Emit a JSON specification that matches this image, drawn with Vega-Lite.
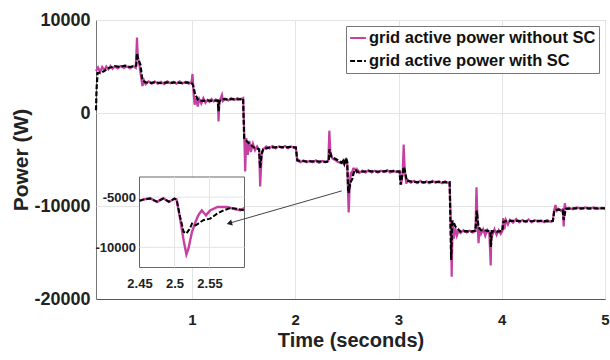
{
  "$schema": "https://vega.github.io/schema/vega-lite/v6.json",
  "width": 509,
  "height": 279,
  "autosize": {"type": "none"},
  "padding": {"left": 96, "top": 20, "right": 5, "bottom": 61},
  "background": "white",
  "config": {
    "font": "Liberation Sans",
    "view": {"stroke": "#777", "strokeWidth": 1},
    "axis": {"labelColor": "#222", "titleColor": "#222", "labelFontWeight": "bold", "titleFontWeight": "bold", "gridColor": "#e4e4e4", "domainColor": "#555", "ticks": false},
    "legend": {
      "title": null,
      "orient": "top-right",
      "offset": 6,
      "labelFontSize": 16.5,
      "labelFontWeight": "bold",
      "labelColor": "#111",
      "labelLimit": 400,
      "labelOffset": 2,
      "symbolType": "stroke",
      "symbolSize": 250,
      "symbolStrokeWidth": 2,
      "strokeColor": "#777",
      "fillColor": "white",
      "padding": 3,
      "rowPadding": 5
    }
  },
  "datasets": {
    "power": [
      {"s": "wo", "t": 0.07, "p": 4500}, {"s": "wo", "t": 0.09, "p": 4900}, {"s": "wo", "t": 0.11, "p": 4400}, {"s": "wo", "t": 0.13, "p": 4950},
      {"s": "wo", "t": 0.15, "p": 4600}, {"s": "wo", "t": 0.17, "p": 5000}, {"s": "wo", "t": 0.19, "p": 4700}, {"s": "wo", "t": 0.21, "p": 5050},
      {"s": "wo", "t": 0.23, "p": 4750}, {"s": "wo", "t": 0.25, "p": 5000}, {"s": "wo", "t": 0.28, "p": 4800}, {"s": "wo", "t": 0.31, "p": 5050},
      {"s": "wo", "t": 0.34, "p": 4850}, {"s": "wo", "t": 0.37, "p": 5000}, {"s": "wo", "t": 0.40, "p": 4800}, {"s": "wo", "t": 0.43, "p": 5050},
      {"s": "wo", "t": 0.455, "p": 4850}, {"s": "wo", "t": 0.467, "p": 8100}, {"s": "wo", "t": 0.475, "p": 6000}, {"s": "wo", "t": 0.49, "p": 5200},
      {"s": "wo", "t": 0.505, "p": 4000}, {"s": "wo", "t": 0.52, "p": 2900}, {"s": "wo", "t": 0.535, "p": 3500}, {"s": "wo", "t": 0.55, "p": 3100},
      {"s": "wo", "t": 0.58, "p": 3400}, {"s": "wo", "t": 0.61, "p": 3150}, {"s": "wo", "t": 0.64, "p": 3400}, {"s": "wo", "t": 0.67, "p": 3150},
      {"s": "wo", "t": 0.70, "p": 3350}, {"s": "wo", "t": 0.73, "p": 3100}, {"s": "wo", "t": 0.76, "p": 3400}, {"s": "wo", "t": 0.79, "p": 3200},
      {"s": "wo", "t": 0.82, "p": 3350}, {"s": "wo", "t": 0.85, "p": 3150}, {"s": "wo", "t": 0.88, "p": 3400}, {"s": "wo", "t": 0.91, "p": 3200},
      {"s": "wo", "t": 0.94, "p": 3350}, {"s": "wo", "t": 0.97, "p": 3150}, {"s": "wo", "t": 0.995, "p": 3300}, {"s": "wo", "t": 1.005, "p": 4200},
      {"s": "wo", "t": 1.015, "p": 2200}, {"s": "wo", "t": 1.025, "p": 900}, {"s": "wo", "t": 1.04, "p": 1600}, {"s": "wo", "t": 1.055, "p": 700},
      {"s": "wo", "t": 1.07, "p": 1500}, {"s": "wo", "t": 1.09, "p": 1000}, {"s": "wo", "t": 1.11, "p": 1600}, {"s": "wo", "t": 1.13, "p": 1100},
      {"s": "wo", "t": 1.15, "p": 1400}, {"s": "wo", "t": 1.17, "p": 1200}, {"s": "wo", "t": 1.19, "p": 1500}, {"s": "wo", "t": 1.21, "p": 1250},
      {"s": "wo", "t": 1.23, "p": 1450}, {"s": "wo", "t": 1.25, "p": 1300}, {"s": "wo", "t": 1.257, "p": -900}, {"s": "wo", "t": 1.265, "p": 1200},
      {"s": "wo", "t": 1.29, "p": 1950}, {"s": "wo", "t": 1.30, "p": 1300}, {"s": "wo", "t": 1.32, "p": 1550}, {"s": "wo", "t": 1.35, "p": 1350},
      {"s": "wo", "t": 1.38, "p": 1600}, {"s": "wo", "t": 1.41, "p": 1400}, {"s": "wo", "t": 1.44, "p": 1600}, {"s": "wo", "t": 1.47, "p": 1450},
      {"s": "wo", "t": 1.495, "p": 1600}, {"s": "wo", "t": 1.505, "p": -2000}, {"s": "wo", "t": 1.515, "p": -6300}, {"s": "wo", "t": 1.525, "p": -2700},
      {"s": "wo", "t": 1.54, "p": -4500}, {"s": "wo", "t": 1.555, "p": -3000}, {"s": "wo", "t": 1.57, "p": -4200}, {"s": "wo", "t": 1.59, "p": -3300},
      {"s": "wo", "t": 1.61, "p": -4000}, {"s": "wo", "t": 1.63, "p": -3600}, {"s": "wo", "t": 1.65, "p": -4000}, {"s": "wo", "t": 1.66, "p": -7900},
      {"s": "wo", "t": 1.675, "p": -4500}, {"s": "wo", "t": 1.69, "p": -3900}, {"s": "wo", "t": 1.72, "p": -3600}, {"s": "wo", "t": 1.75, "p": -3800},
      {"s": "wo", "t": 1.78, "p": -3550}, {"s": "wo", "t": 1.81, "p": -3800}, {"s": "wo", "t": 1.84, "p": -3600}, {"s": "wo", "t": 1.87, "p": -3750},
      {"s": "wo", "t": 1.90, "p": -3550}, {"s": "wo", "t": 1.93, "p": -3800}, {"s": "wo", "t": 1.96, "p": -3600}, {"s": "wo", "t": 1.99, "p": -3750},
      {"s": "wo", "t": 2.005, "p": -3700}, {"s": "wo", "t": 2.02, "p": -5100}, {"s": "wo", "t": 2.05, "p": -5300}, {"s": "wo", "t": 2.08, "p": -5100},
      {"s": "wo", "t": 2.11, "p": -5300}, {"s": "wo", "t": 2.14, "p": -5150}, {"s": "wo", "t": 2.17, "p": -5300}, {"s": "wo", "t": 2.20, "p": -5100},
      {"s": "wo", "t": 2.23, "p": -5350}, {"s": "wo", "t": 2.26, "p": -5150}, {"s": "wo", "t": 2.29, "p": -5300}, {"s": "wo", "t": 2.32, "p": -5150},
      {"s": "wo", "t": 2.33, "p": -1900}, {"s": "wo", "t": 2.34, "p": -4200}, {"s": "wo", "t": 2.36, "p": -4900}, {"s": "wo", "t": 2.39, "p": -5100},
      {"s": "wo", "t": 2.42, "p": -5300}, {"s": "wo", "t": 2.45, "p": -5400}, {"s": "wo", "t": 2.455, "p": -5250}, {"s": "wo", "t": 2.465, "p": -5100},
      {"s": "wo", "t": 2.475, "p": -5480}, {"s": "wo", "t": 2.484, "p": -5100}, {"s": "wo", "t": 2.492, "p": -5480}, {"s": "wo", "t": 2.5, "p": -5150},
      {"s": "wo", "t": 2.503, "p": -5250}, {"s": "wo", "t": 2.508, "p": -7140}, {"s": "wo", "t": 2.513, "p": -9280}, {"s": "wo", "t": 2.517, "p": -10700},
      {"s": "wo", "t": 2.52, "p": -10100}, {"s": "wo", "t": 2.525, "p": -8450}, {"s": "wo", "t": 2.53, "p": -7470}, {"s": "wo", "t": 2.534, "p": -6810},
      {"s": "wo", "t": 2.539, "p": -6320}, {"s": "wo", "t": 2.545, "p": -6810}, {"s": "wo", "t": 2.551, "p": -6320}, {"s": "wo", "t": 2.561, "p": -5990},
      {"s": "wo", "t": 2.575, "p": -5990}, {"s": "wo", "t": 2.584, "p": -6150}, {"s": "wo", "t": 2.594, "p": -6320}, {"s": "wo", "t": 2.6, "p": -6080},
      {"s": "wo", "t": 2.62, "p": -6450}, {"s": "wo", "t": 2.65, "p": -6200}, {"s": "wo", "t": 2.68, "p": -6400}, {"s": "wo", "t": 2.71, "p": -6150},
      {"s": "wo", "t": 2.74, "p": -6400}, {"s": "wo", "t": 2.77, "p": -6200}, {"s": "wo", "t": 2.80, "p": -6400}, {"s": "wo", "t": 2.83, "p": -6200},
      {"s": "wo", "t": 2.86, "p": -6350}, {"s": "wo", "t": 2.89, "p": -6150}, {"s": "wo", "t": 2.92, "p": -6400}, {"s": "wo", "t": 2.95, "p": -6200},
      {"s": "wo", "t": 2.98, "p": -6350}, {"s": "wo", "t": 3.01, "p": -6250}, {"s": "wo", "t": 3.025, "p": -7700}, {"s": "wo", "t": 3.04, "p": -6500},
      {"s": "wo", "t": 3.05, "p": -3400}, {"s": "wo", "t": 3.06, "p": -6000}, {"s": "wo", "t": 3.075, "p": -7600}, {"s": "wo", "t": 3.09, "p": -7200},
      {"s": "wo", "t": 3.12, "p": -7500}, {"s": "wo", "t": 3.15, "p": -7300}, {"s": "wo", "t": 3.18, "p": -7550}, {"s": "wo", "t": 3.21, "p": -7300},
      {"s": "wo", "t": 3.24, "p": -7500}, {"s": "wo", "t": 3.27, "p": -7350}, {"s": "wo", "t": 3.30, "p": -7550}, {"s": "wo", "t": 3.33, "p": -7300},
      {"s": "wo", "t": 3.36, "p": -7500}, {"s": "wo", "t": 3.39, "p": -7350}, {"s": "wo", "t": 3.42, "p": -7550}, {"s": "wo", "t": 3.45, "p": -7350},
      {"s": "wo", "t": 3.48, "p": -7500}, {"s": "wo", "t": 3.495, "p": -7450}, {"s": "wo", "t": 3.505, "p": -11000}, {"s": "wo", "t": 3.515, "p": -17600},
      {"s": "wo", "t": 3.525, "p": -11500}, {"s": "wo", "t": 3.535, "p": -13500}, {"s": "wo", "t": 3.55, "p": -12400}, {"s": "wo", "t": 3.565, "p": -13200},
      {"s": "wo", "t": 3.58, "p": -12700}, {"s": "wo", "t": 3.60, "p": -12900}, {"s": "wo", "t": 3.63, "p": -12600}, {"s": "wo", "t": 3.66, "p": -12850},
      {"s": "wo", "t": 3.69, "p": -12650}, {"s": "wo", "t": 3.72, "p": -12850}, {"s": "wo", "t": 3.745, "p": -12700}, {"s": "wo", "t": 3.755, "p": -8000},
      {"s": "wo", "t": 3.765, "p": -11500}, {"s": "wo", "t": 3.775, "p": -14000}, {"s": "wo", "t": 3.785, "p": -12300}, {"s": "wo", "t": 3.80, "p": -13000},
      {"s": "wo", "t": 3.82, "p": -12500}, {"s": "wo", "t": 3.84, "p": -13200}, {"s": "wo", "t": 3.86, "p": -12600}, {"s": "wo", "t": 3.88, "p": -13000},
      {"s": "wo", "t": 3.893, "p": -16400}, {"s": "wo", "t": 3.90, "p": -12600}, {"s": "wo", "t": 3.91, "p": -13100}, {"s": "wo", "t": 3.93, "p": -12500},
      {"s": "wo", "t": 3.95, "p": -13100}, {"s": "wo", "t": 3.97, "p": -12600}, {"s": "wo", "t": 3.99, "p": -13000}, {"s": "wo", "t": 4.005, "p": -12700},
      {"s": "wo", "t": 4.015, "p": -11300}, {"s": "wo", "t": 4.025, "p": -12500}, {"s": "wo", "t": 4.04, "p": -11500}, {"s": "wo", "t": 4.06, "p": -12000},
      {"s": "wo", "t": 4.08, "p": -11500}, {"s": "wo", "t": 4.11, "p": -11800}, {"s": "wo", "t": 4.14, "p": -11400}, {"s": "wo", "t": 4.17, "p": -11750},
      {"s": "wo", "t": 4.20, "p": -11500}, {"s": "wo", "t": 4.23, "p": -11700}, {"s": "wo", "t": 4.26, "p": -11450}, {"s": "wo", "t": 4.29, "p": -11750},
      {"s": "wo", "t": 4.32, "p": -11500}, {"s": "wo", "t": 4.35, "p": -11700}, {"s": "wo", "t": 4.38, "p": -11550}, {"s": "wo", "t": 4.41, "p": -11750},
      {"s": "wo", "t": 4.44, "p": -11500}, {"s": "wo", "t": 4.47, "p": -11700}, {"s": "wo", "t": 4.495, "p": -11600}, {"s": "wo", "t": 4.505, "p": -10600},
      {"s": "wo", "t": 4.52, "p": -9900}, {"s": "wo", "t": 4.535, "p": -10500}, {"s": "wo", "t": 4.55, "p": -10300}, {"s": "wo", "t": 4.57, "p": -10500},
      {"s": "wo", "t": 4.59, "p": -10350}, {"s": "wo", "t": 4.60, "p": -12200}, {"s": "wo", "t": 4.61, "p": -9700}, {"s": "wo", "t": 4.62, "p": -10300},
      {"s": "wo", "t": 4.65, "p": -10200}, {"s": "wo", "t": 4.69, "p": -10350}, {"s": "wo", "t": 4.73, "p": -10150}, {"s": "wo", "t": 4.77, "p": -10300},
      {"s": "wo", "t": 4.81, "p": -10150}, {"s": "wo", "t": 4.85, "p": -10300}, {"s": "wo", "t": 4.89, "p": -10150}, {"s": "wo", "t": 4.93, "p": -10300},
      {"s": "wo", "t": 4.97, "p": -10200}, {"s": "wo", "t": 5.0, "p": -10250},

      {"s": "w", "t": 0.07, "p": 300}, {"s": "w", "t": 0.075, "p": 2500}, {"s": "w", "t": 0.085, "p": 4300}, {"s": "w", "t": 0.12, "p": 4350},
      {"s": "w", "t": 0.15, "p": 4500}, {"s": "w", "t": 0.18, "p": 4800}, {"s": "w", "t": 0.21, "p": 4900}, {"s": "w", "t": 0.25, "p": 5050},
      {"s": "w", "t": 0.30, "p": 4950}, {"s": "w", "t": 0.35, "p": 5100}, {"s": "w", "t": 0.40, "p": 4950}, {"s": "w", "t": 0.44, "p": 5050},
      {"s": "w", "t": 0.46, "p": 5100}, {"s": "w", "t": 0.467, "p": 6400}, {"s": "w", "t": 0.48, "p": 5800}, {"s": "w", "t": 0.50, "p": 5200},
      {"s": "w", "t": 0.52, "p": 3500}, {"s": "w", "t": 0.55, "p": 3300}, {"s": "w", "t": 0.60, "p": 3250}, {"s": "w", "t": 0.65, "p": 3300},
      {"s": "w", "t": 0.70, "p": 3200}, {"s": "w", "t": 0.75, "p": 3300}, {"s": "w", "t": 0.80, "p": 3250}, {"s": "w", "t": 0.85, "p": 3300},
      {"s": "w", "t": 0.90, "p": 3200}, {"s": "w", "t": 0.95, "p": 3300}, {"s": "w", "t": 0.995, "p": 3250}, {"s": "w", "t": 1.01, "p": 3000},
      {"s": "w", "t": 1.03, "p": 2000}, {"s": "w", "t": 1.06, "p": 1400}, {"s": "w", "t": 1.10, "p": 1300}, {"s": "w", "t": 1.15, "p": 1350},
      {"s": "w", "t": 1.20, "p": 1300}, {"s": "w", "t": 1.25, "p": 1350}, {"s": "w", "t": 1.257, "p": 200}, {"s": "w", "t": 1.265, "p": 1200},
      {"s": "w", "t": 1.29, "p": 1500}, {"s": "w", "t": 1.35, "p": 1450}, {"s": "w", "t": 1.40, "p": 1500}, {"s": "w", "t": 1.45, "p": 1450},
      {"s": "w", "t": 1.495, "p": 1550}, {"s": "w", "t": 1.505, "p": -2700}, {"s": "w", "t": 1.51, "p": -2800}, {"s": "w", "t": 1.55, "p": -3250},
      {"s": "w", "t": 1.60, "p": -3700}, {"s": "w", "t": 1.65, "p": -3900}, {"s": "w", "t": 1.66, "p": -5900}, {"s": "w", "t": 1.675, "p": -4300},
      {"s": "w", "t": 1.69, "p": -3900}, {"s": "w", "t": 1.75, "p": -3700}, {"s": "w", "t": 1.80, "p": -3700}, {"s": "w", "t": 1.85, "p": -3650},
      {"s": "w", "t": 1.90, "p": -3700}, {"s": "w", "t": 1.95, "p": -3650}, {"s": "w", "t": 2.005, "p": -3700}, {"s": "w", "t": 2.02, "p": -5100},
      {"s": "w", "t": 2.10, "p": -5200}, {"s": "w", "t": 2.20, "p": -5200}, {"s": "w", "t": 2.30, "p": -5250}, {"s": "w", "t": 2.325, "p": -5200},
      {"s": "w", "t": 2.33, "p": -3900}, {"s": "w", "t": 2.35, "p": -4700}, {"s": "w", "t": 2.40, "p": -5000}, {"s": "w", "t": 2.45, "p": -5350},
      {"s": "w", "t": 2.455, "p": -5250}, {"s": "w", "t": 2.465, "p": -5150}, {"s": "w", "t": 2.475, "p": -5450}, {"s": "w", "t": 2.484, "p": -5150},
      {"s": "w", "t": 2.492, "p": -5450}, {"s": "w", "t": 2.5, "p": -5150}, {"s": "w", "t": 2.503, "p": -5250}, {"s": "w", "t": 2.508, "p": -6970},
      {"s": "w", "t": 2.513, "p": -8450}, {"s": "w", "t": 2.517, "p": -8620}, {"s": "w", "t": 2.522, "p": -8130}, {"s": "w", "t": 2.525, "p": -7630},
      {"s": "w", "t": 2.53, "p": -7800}, {"s": "w", "t": 2.534, "p": -7630}, {"s": "w", "t": 2.541, "p": -7300}, {"s": "w", "t": 2.551, "p": -7140},
      {"s": "w", "t": 2.561, "p": -6650}, {"s": "w", "t": 2.57, "p": -6320}, {"s": "w", "t": 2.58, "p": -6080}, {"s": "w", "t": 2.589, "p": -6150},
      {"s": "w", "t": 2.6, "p": -6320}, {"s": "w", "t": 2.65, "p": -6300}, {"s": "w", "t": 2.70, "p": -6250}, {"s": "w", "t": 2.80, "p": -6300},
      {"s": "w", "t": 2.90, "p": -6250}, {"s": "w", "t": 3.01, "p": -6300}, {"s": "w", "t": 3.02, "p": -7700}, {"s": "w", "t": 3.04, "p": -6500},
      {"s": "w", "t": 3.05, "p": -5800}, {"s": "w", "t": 3.06, "p": -6100}, {"s": "w", "t": 3.08, "p": -7300}, {"s": "w", "t": 3.15, "p": -7400},
      {"s": "w", "t": 3.25, "p": -7450}, {"s": "w", "t": 3.35, "p": -7400}, {"s": "w", "t": 3.45, "p": -7450}, {"s": "w", "t": 3.495, "p": -7450},
      {"s": "w", "t": 3.51, "p": -15800}, {"s": "w", "t": 3.52, "p": -11700}, {"s": "w", "t": 3.532, "p": -11700}, {"s": "w", "t": 3.55, "p": -12200},
      {"s": "w", "t": 3.60, "p": -12750}, {"s": "w", "t": 3.65, "p": -12700}, {"s": "w", "t": 3.70, "p": -12750}, {"s": "w", "t": 3.745, "p": -12650},
      {"s": "w", "t": 3.758, "p": -10500}, {"s": "w", "t": 3.775, "p": -12300}, {"s": "w", "t": 3.80, "p": -12600}, {"s": "w", "t": 3.85, "p": -12650},
      {"s": "w", "t": 3.89, "p": -12700}, {"s": "w", "t": 3.894, "p": -14400}, {"s": "w", "t": 3.905, "p": -12700}, {"s": "w", "t": 3.95, "p": -12750},
      {"s": "w", "t": 4.005, "p": -12700}, {"s": "w", "t": 4.015, "p": -11700}, {"s": "w", "t": 4.05, "p": -11600}, {"s": "w", "t": 4.15, "p": -11600},
      {"s": "w", "t": 4.25, "p": -11650}, {"s": "w", "t": 4.35, "p": -11600}, {"s": "w", "t": 4.45, "p": -11650}, {"s": "w", "t": 4.495, "p": -11600},
      {"s": "w", "t": 4.51, "p": -10450}, {"s": "w", "t": 4.55, "p": -10400}, {"s": "w", "t": 4.59, "p": -10450}, {"s": "w", "t": 4.60, "p": -11500},
      {"s": "w", "t": 4.62, "p": -10300}, {"s": "w", "t": 4.70, "p": -10250}, {"s": "w", "t": 4.80, "p": -10250}, {"s": "w", "t": 4.90, "p": -10250},
      {"s": "w", "t": 5.0, "p": -10250}
    ]
  },
  "layer": [
    {
      "data": {"name": "power"},
      "encoding": {
        "x": {
          "field": "t", "type": "quantitative",
          "scale": {"domain": [0.07, 5], "nice": false, "zero": false},
          "axis": {"values": [1, 2, 3, 4, 5], "title": "Time (seconds)", "titleFontSize": 20, "labelFontSize": 15, "labelPadding": 13, "titlePadding": 3, "labelFlush": false, "format": "d"}
        },
        "y": {
          "field": "p", "type": "quantitative",
          "scale": {"domain": [-20000, 10000], "nice": false, "zero": false},
          "axis": {"values": [-20000, -10000, 0, 10000], "title": "Power (W)", "titleFontSize": 21, "labelFontSize": 18, "labelPadding": 6, "titlePadding": 2, "format": "d", "labelExpr": "replace(datum.label, '\u2212', '-')", "domain": false}
        },
        "color": {
          "field": "s", "type": "nominal",
          "scale": {"domain": ["wo", "w"], "range": ["#C540A2", "#000000"]},
          "legend": {"labelExpr": "datum.label == 'wo' ? 'grid active power without SC' : 'grid active power with SC'"}
        },
        "strokeDash": {
          "field": "s", "type": "nominal",
          "scale": {"domain": ["wo", "w"], "range": [[1, 0], [5, 2]]},
          "legend": {"labelExpr": "datum.label == 'wo' ? 'grid active power without SC' : 'grid active power with SC'"}
        }
      },
      "layer": [
        {"transform": [{"filter": {"field": "s", "equal": "wo"}}], "mark": {"type": "line", "strokeWidth": 2.2}},
        {"transform": [{"filter": {"field": "s", "equal": "w"}}], "mark": {"type": "line", "strokeWidth": 2.2}}
      ]
    },
    {
      "layer": [
        {
          "data": {"values": [{}]},
          "mark": {"type": "rect", "fill": "white", "stroke": "#666", "strokeWidth": 1},
          "encoding": {
            "x": {"datum": 2.45, "type": "quantitative", "title": null,
              "scale": {"domain": [2.45, 2.6], "range": [43.5, 148.5], "nice": false, "zero": false},
              "axis": {"orient": "bottom", "offset": -31.5, "values": [2.45, 2.5, 2.55], "format": "~g", "grid": false, "domain": false, "labelFontSize": 13, "labelPadding": 10, "labelFlush": false, "title": null}},
            "x2": {"datum": 2.6},
            "y": {"datum": -12000, "type": "quantitative", "title": null,
              "scale": {"domain": [-12000, -3000], "range": [247.5, 157], "nice": false, "zero": false},
              "axis": {"orient": "left", "offset": -43.5, "values": [-10000, -5000], "format": "d", "labelExpr": "replace(datum.label, '\u2212', '-')", "grid": false, "domain": false, "labelFontSize": 13, "labelPadding": 4, "title": null}},
            "y2": {"datum": -3000}
          }
        },
        {
          "data": {"values": [{"g": 2.5}, {"g": 2.55}]},
          "mark": {"type": "rule", "color": "#e4e4e4", "strokeWidth": 1},
          "encoding": {
            "x": {"field": "g", "type": "quantitative", "title": null},
            "y": {"datum": -12000, "type": "quantitative", "title": null},
            "y2": {"datum": -3000}
          }
        },
        {
          "data": {"values": [{"g": -10000}, {"g": -5000}]},
          "mark": {"type": "rule", "color": "#e4e4e4", "strokeWidth": 1},
          "encoding": {
            "y": {"field": "g", "type": "quantitative", "title": null},
            "x": {"datum": 2.45, "type": "quantitative", "title": null},
            "x2": {"datum": 2.6}
          }
        },
        {
          "data": {"name": "power"},
          "transform": [{"filter": {"field": "t", "range": [2.45, 2.6]}}, {"filter": {"field": "s", "equal": "wo"}}],
          "mark": {"type": "line", "strokeWidth": 2.4},
          "encoding": {
            "x": {"field": "t", "type": "quantitative", "title": null},
            "y": {"field": "p", "type": "quantitative", "title": null},
            "color": {"field": "s", "type": "nominal"},
            "strokeDash": {"field": "s", "type": "nominal"}
          }
        },
        {
          "data": {"name": "power"},
          "transform": [{"filter": {"field": "t", "range": [2.45, 2.6]}}, {"filter": {"field": "s", "equal": "w"}}],
          "mark": {"type": "line", "strokeWidth": 2},
          "encoding": {
            "x": {"field": "t", "type": "quantitative", "title": null},
            "y": {"field": "p", "type": "quantitative", "title": null},
            "color": {"field": "s", "type": "nominal"},
            "strokeDash": {"field": "s", "type": "nominal"}
          }
        }
      ]
    },
    {
      "data": {"values": [{"x": 2.451, "y": -8373, "x2": 1.37, "y2": -11821}]},
      "layer": [
        {
          "mark": {"type": "rule", "color": "#444", "strokeWidth": 1},
          "encoding": {
            "x": {"field": "x", "type": "quantitative", "scale": {"domain": [0.07, 5], "nice": false, "zero": false}, "axis": null},
            "y": {"field": "y", "type": "quantitative", "scale": {"domain": [-20000, 10000], "nice": false, "zero": false}, "axis": null},
            "x2": {"field": "x2"},
            "y2": {"field": "y2"}
          }
        },
        {
          "mark": {"type": "point", "shape": "triangle", "filled": true, "color": "#222", "opacity": 1, "size": 40, "angle": 254},
          "encoding": {
            "x": {"field": "x2", "type": "quantitative", "axis": null},
            "y": {"field": "y2", "type": "quantitative", "axis": null}
          }
        }
      ]
    }
  ],
  "resolve": {
    "scale": {"x": "independent", "y": "independent"},
    "axis": {"x": "independent", "y": "independent"}
  }
}
